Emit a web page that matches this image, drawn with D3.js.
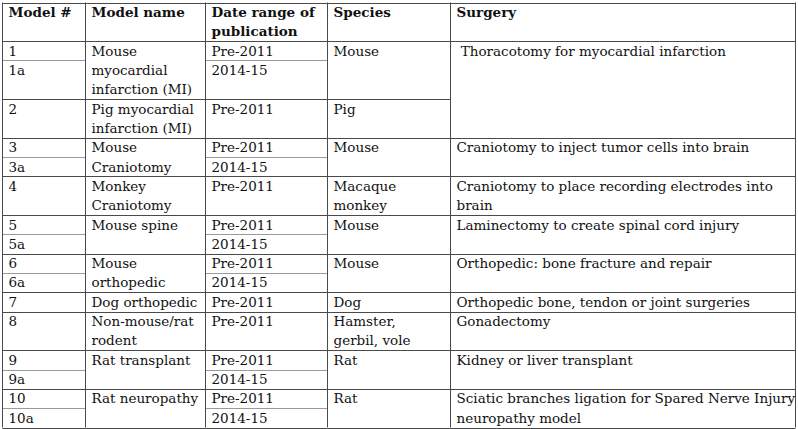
<!DOCTYPE html>
<html>
<head>
<meta charset="utf-8">
<script src="https://cdn.jsdelivr.net/npm/d3@7"></script>
<style>
  body { margin: 0; background: #fff; }
  text { font-family: "DejaVu Serif", serif; font-size: 13.5px; fill: #111; }
  .head { font-weight: bold; }
</style>
</head>
<body>
<svg id="table" width="798" height="429"></svg>
<script>
// table contents, top to bottom
let headers = ['Model #', 'Model name', 'Date range of\npublication', 'Species', 'Surgery'];
let models = ['1', '1a', '2', '3', '3a', '4', '5', '5a', '6', '6a', '7', '8', '9', '9a', '10', '10a'];
let rowLines = [1, 2, 2, 1, 1, 2, 1, 1, 1, 1, 1, 2, 1, 1, 1, 1];
let dates = ['Pre-2011', '2014-15', 'Pre-2011', 'Pre-2011', '2014-15', 'Pre-2011', 'Pre-2011', '2014-15',
  'Pre-2011', '2014-15', 'Pre-2011', 'Pre-2011', 'Pre-2011', '2014-15', 'Pre-2011', '2014-15'];
let modelNames = [
  ['Mouse\nmyocardial\ninfarction (MI)', 2], ['Pig myocardial\ninfarction (MI)', 1], ['Mouse\nCraniotomy', 2],
  ['Monkey\nCraniotomy', 1], ['Mouse spine', 2], ['Mouse\northopedic', 2], ['Dog orthopedic', 1],
  ['Non-mouse/rat\nrodent', 1], ['Rat transplant', 2], ['Rat neuropathy', 2]];
let species = [
  ['Mouse', 2], ['Pig', 1], ['Mouse', 2], ['Macaque\nmonkey', 1], ['Mouse', 2], ['Mouse', 2], ['Dog', 1],
  ['Hamster,\ngerbil, vole', 1], ['Rat', 2], ['Rat', 2]];
let surgery = [
  [' Thoracotomy for myocardial infarction', 3], ['Craniotomy to inject tumor cells into brain', 2],
  ['Craniotomy to place recording electrodes into\nbrain', 1], ['Laminectomy to create spinal cord injury', 2],
  ['Orthopedic: bone fracture and repair', 2], ['Orthopedic bone, tendon or joint surgeries', 1],
  ['Gonadectomy', 1], ['Kidney or liver transplant', 2],
  ['Sciatic branches ligation for Spared Nerve Injury\nneuropathy model', 2]];

let colX = [2.5, 85.5, 205.5, 327.5, 450.5, 795.5];
let headLines = 2;
let totalLines = headLines + d3.sum(rowLines);

let y = d3.scaleLinear().domain([0, totalLines]).range([2.5, 427.5]);
let lineH = y(1) - y(0);

// start line of every row
let rowStart = [];
let acc = headLines;
rowLines.forEach(n => { rowStart.push(acc); acc += n; });
rowStart.push(acc);

let group = m => m.replace('a', '');

// turn [text, span] lists into cells with row ranges
function spanCells(list) {
  let r = 0;
  return list.map(([t, s]) => { let c = { text: t, r0: r, r1: r + s }; r += s; return c; });
}
let columns = [
  models.map((m, i) => ({ text: m, r0: i, r1: i + 1 })),
  spanCells(modelNames),
  dates.map((d, i) => ({ text: d, r0: i, r1: i + 1 })),
  spanCells(species),
  spanCells(surgery)
];

let svg = d3.select('#table');

// horizontal rules
let hlines = [];
hlines.push({ x0: colX[0], x1: colX[5], l: 0, light: false });
hlines.push({ x0: colX[0], x1: colX[5], l: headLines, light: false });
columns.forEach((cells, ci) => {
  cells.forEach(c => {
    let sub = c.r1 < models.length && group(models[c.r1]) == group(models[c.r1 - 1]);
    hlines.push({ x0: colX[ci], x1: colX[ci + 1], l: rowStart[c.r1], light: sub });
  });
});
svg.selectAll('line.h')
  .data(hlines)
  .join('line')
  .attr('x1', d => d.x0)
  .attr('x2', d => d.x1)
  .attr('y1', d => Math.round(y(d.l)) + 0.5)
  .attr('y2', d => Math.round(y(d.l)) + 0.5)
  .style('stroke', d => d.light ? '#9a9a9a' : '#4a4a4a')
  .style('stroke-width', 1);

// vertical rules
svg.selectAll('line.v')
  .data(colX)
  .join('line')
  .attr('x1', d => d).attr('x2', d => d)
  .attr('y1', y(0)).attr('y2', y(totalLines))
  .style('stroke', '#4a4a4a')
  .style('stroke-width', 1);

// header texts
function putText(sel, str, x, topLine) {
  let t = sel.append('text').attr('x', x).attr('y', y(topLine) + 14.5);
  str.split('\n').forEach((s, i) => {
    t.append('tspan').attr('x', x).attr('dy', i == 0 ? 0 : lineH).text(s);
  });
  return t;
}
headers.forEach((h, i) => {
  putText(svg, h, colX[i] + 6, 0).classed('head', true);
});

columns.forEach((cells, ci) => {
  cells.forEach(c => {
    putText(svg, c.text, colX[ci] + 6, rowStart[c.r0]).attr('xml:space', 'preserve');
  });
});
</script>
</body>
</html>
